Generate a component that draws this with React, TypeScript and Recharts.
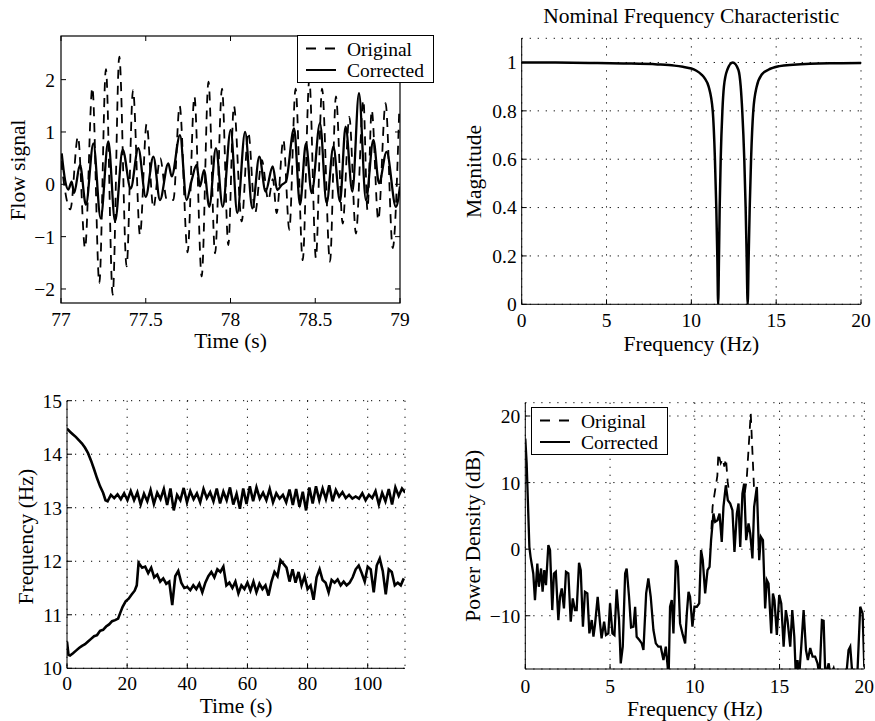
import React from 'react';
import { LineChart, Line, XAxis, YAxis, CartesianGrid, Legend } from 'recharts';

const FONT = '"Liberation Serif", "Times New Roman", Times, serif';
const TICK_FS = 19.5;
const LABEL_FS = 21.5;
const TICK_LEN = 5;
const Y_W = 50;
const X_H = 30;
const DASH = '9 7';

// top left: flow signal around 77-79 s (peaks / troughs)
const flowOrigT = [77.0, 77.055, 77.1, 77.142, 77.185, 77.226, 77.265, 77.305, 77.344, 77.387, 77.425, 77.466, 77.505, 77.545, 77.585, 77.625, 77.663, 77.7, 77.747, 77.787, 77.83, 77.87, 77.909, 77.95, 77.987, 78.02, 78.066, 78.105, 78.145, 78.185, 78.223, 78.25, 78.272, 78.312, 78.347, 78.384, 78.426, 78.465, 78.504, 78.54, 78.587, 78.622, 78.662, 78.701, 78.74, 78.784, 78.808, 78.833, 78.872, 78.915, 78.957, 78.996];
const flowOrigV = [0.45, -0.48, 0.91, -1.22, 1.85, -1.89, 2.2, -2.11, 2.44, -1.57, 1.8, -0.97, 1.15, -0.45, 0.5, -0.3, -0.3, 1.5, -1.3, 1.68, -1.76, 1.96, -1.32, 1.83, -1.16, 1.5, -0.71, 1.0, -0.55, 0.46, -0.3, 0.1, -0.55, 0.85, -0.87, 1.83, -1.45, 2.0, -1.41, 1.83, -1.48, 1.68, -0.75, 1.29, -0.94, 1.61, -0.49, 1.42, -0.68, 1.55, -1.22, 1.48];
const flowCorrT = [77.004, 77.024, 77.043, 77.063, 77.077, 77.112, 77.147, 77.191, 77.234, 77.279, 77.319, 77.364, 77.411, 77.456, 77.5, 77.545, 77.584, 77.633, 77.653, 77.702, 77.741, 77.771, 77.8, 77.82, 77.844, 77.875, 77.914, 77.954, 78.001, 78.04, 78.086, 78.129, 78.17, 78.207, 78.249, 78.276, 78.302, 78.327, 78.375, 78.41, 78.445, 78.479, 78.528, 78.567, 78.607, 78.646, 78.679, 78.719, 78.758, 78.799, 78.843, 78.876, 78.921, 78.976, 79.0];
const flowCorrV = [0.59, 0.08, -0.1, 0.05, -0.17, 0.37, -0.39, 0.78, -0.65, 0.82, -0.71, 0.66, -0.08, 0.69, -0.24, 0.53, -0.3, 0.4, 0.15, 0.94, -0.3, 0.08, 0.37, -0.04, 0.27, -0.43, 0.69, -0.43, 1.04, -0.55, 1.0, -0.46, 0.53, -0.14, 0.34, -0.11, -0.01, 0.05, 1.07, -0.39, 0.78, -0.17, 1.17, -0.36, 0.72, -0.33, 1.1, -0.14, 1.74, -0.3, 0.85, 0.02, 0.62, -0.43, -0.04];
const flowTimeTicks = [77, 77.5, 78, 78.5, 79];
const flowTicks = [-2, -1, 0, 1, 2];

// top right: nominal notch characteristic
const notchF = [0, 2, 4, 6, 8, 9, 9.5, 10, 10.3, 10.6, 10.8, 11.02, 11.26, 11.39, 11.47, 11.53, 11.58, 11.63, 11.67, 11.73, 11.83, 11.92, 12.12, 12.44, 12.77, 12.91, 13.0, 13.12, 13.2, 13.26, 13.32, 13.38, 13.44, 13.52, 13.65, 13.85, 14.15, 14.54, 15.2, 16, 17, 18.5, 20];
const notchMag = [1.0, 0.9995, 0.998, 0.996, 0.992, 0.987, 0.982, 0.975, 0.966, 0.95, 0.933, 0.9, 0.8, 0.6, 0.4, 0.2, 0.0, 0.2, 0.4, 0.6, 0.8, 0.9, 0.97, 1.0, 0.97, 0.9, 0.8, 0.6, 0.4, 0.2, 0.0, 0.2, 0.4, 0.6, 0.8, 0.9, 0.95, 0.97, 0.985, 0.991, 0.995, 0.997, 0.998];
const freqTicks = [0, 5, 10, 15, 20];
const magTicks = [0, 0.2, 0.4, 0.6, 0.8, 1];

// bottom left: tracked notch frequencies
const upperStartT = [0, 1, 2, 3, 4, 5, 6, 7, 8, 9, 10, 11, 12, 12.8];
const upperStartF = [14.48, 14.42, 14.37, 14.32, 14.26, 14.2, 14.12, 14.02, 13.88, 13.72, 13.55, 13.4, 13.28, 13.14];
// then sampled every 1.1 s from 13.5 s
const upperTailF = [13.12, 13.24, 13.18, 13.25, 13.16, 13.27, 13.14, 13.31, 13.14, 13.29, 13.06, 13.26, 13.12, 13.33, 13.07, 13.28, 13.16, 13.35, 13.05, 13.36, 12.95, 13.24, 13.14, 13.37, 13.1, 13.31, 13.16, 13.27, 13.1, 13.35, 13.18, 13.29, 13.12, 13.36, 13.08, 13.3, 13.14, 13.38, 13.06, 13.26, 12.98, 13.36, 13.07, 13.4, 13.12, 13.38, 13.17, 13.28, 13.14, 13.35, 13.1, 13.27, 13.17, 13.24, 13.1, 13.34, 13.05, 13.35, 13.02, 13.3, 12.95, 13.38, 13.08, 13.4, 13.14, 13.36, 13.16, 13.42, 13.12, 13.33, 13.21, 13.29, 13.18, 13.24, 13.17, 13.21, 13.17, 13.27, 13.14, 13.24, 13.18, 13.31, 13.06, 13.28, 13.12, 13.35, 13.06, 13.38, 13.22, 13.36, 13.28];
const lowerStartT = [0, 0.5, 1, 2, 3, 4, 5, 6, 7, 8, 9, 10, 11, 12, 13, 14, 15, 16, 17, 17.8, 18.5, 19.5, 20.5, 21.5, 22.5, 23.2, 23.8];
const lowerStartF = [10.5, 10.25, 10.24, 10.28, 10.33, 10.38, 10.42, 10.45, 10.5, 10.55, 10.6, 10.62, 10.7, 10.72, 10.78, 10.82, 10.88, 10.9, 10.93, 11.05, 11.15, 11.25, 11.3, 11.38, 11.45, 11.55, 11.97];
// then sampled every 1 s from 25 s
const lowerTailF = [11.88, 11.9, 11.78, 11.88, 11.7, 11.75, 11.62, 11.68, 11.58, 11.62, 11.18, 11.72, 11.82, 11.6, 11.5, 11.52, 11.46, 11.55, 11.48, 11.58, 11.42, 11.6, 11.72, 11.8, 11.7, 11.85, 11.8, 11.9, 11.55, 11.6, 11.5, 11.62, 11.4, 11.55, 11.48, 11.6, 11.45, 11.62, 11.42, 11.58, 11.48, 11.55, 11.36, 11.62, 11.8, 11.72, 12.02, 11.95, 11.88, 11.62, 11.85, 11.6, 11.8, 11.55, 11.72, 11.48, 11.55, 11.28, 11.7, 11.85, 11.65, 11.6, 11.42, 11.65, 11.6, 11.66, 11.55, 11.62, 11.55, 11.6, 11.7, 11.85, 11.92, 11.78, 11.62, 11.9, 11.85, 11.42, 11.92, 12.05, 11.82, 11.38, 11.85, 11.8, 11.55, 11.6, 11.55, 11.68];
const trackTimeTicks = [0, 20, 40, 60, 80, 100];
const trackFreqTicks = [10, 11, 12, 13, 14, 15];

// bottom right: power spectral density
const psdF = [0, 0.08, 0.24, 0.31, 0.47, 0.57, 0.71, 0.8, 0.93, 1.02, 1.12, 1.22, 1.36, 1.46, 1.59, 1.69, 1.8, 1.95, 2.05, 2.15, 2.28, 2.4, 2.54, 2.68, 2.8, 2.93, 3.03, 3.17, 3.27, 3.4, 3.52, 3.66, 3.78, 3.92, 4.02, 4.11, 4.27, 4.41, 4.5, 4.65, 4.76, 4.9, 5.0, 5.14, 5.26, 5.39, 5.53, 5.63, 5.75, 5.89, 5.98, 6.12, 6.24, 6.38, 6.48, 6.57, 6.73, 6.87, 6.97, 7.13, 7.26, 7.4, 7.56, 7.7, 7.85, 7.99, 8.15, 8.29, 8.4, 8.45, 8.54, 8.64, 8.74, 8.88, 9.0, 9.13, 9.27, 9.43, 9.53, 9.63, 9.72, 9.86, 9.98, 10.12, 10.26, 10.37, 10.47, 10.61, 10.75, 10.87, 10.96, 11.1, 11.2, 11.34, 11.46, 11.59, 11.69, 11.83, 11.95, 12.09, 12.22, 12.34, 12.48, 12.58, 12.68, 12.81, 12.91, 13.03, 13.17, 13.27, 13.4, 13.5, 13.66, 13.8, 13.9, 14.02, 14.15, 14.25, 14.35, 14.51, 14.61, 14.7, 14.84, 14.98, 15.1, 15.24, 15.37, 15.47, 15.63, 15.75, 15.87, 15.96, 16.06, 16.16, 16.28, 16.42, 16.56, 16.67, 16.81, 16.95, 17.1, 17.24, 17.36, 17.5, 17.6, 17.7, 17.9, 18.0, 18.19, 18.4, 18.9, 19.07, 19.17, 19.33, 19.57, 19.76, 19.9, 20.0];
const psdCorr = [16.6, 12.9, 0.35, -1.15, -3.65, -7.65, -2.15, -5.65, -2.9, -6.4, -3.15, -5.4, 0.6, -0.15, -9.15, -3.65, -3.4, -10.65, -7.15, -5.9, -8.9, -3.4, -3.65, -10.9, -7.4, -9.15, -9.15, -2.05, -3.15, -11.65, -6.4, -6.65, -12.65, -10.65, -13.15, -11.4, -7.15, -11.15, -13.4, -10.9, -12.9, -12.65, -8.15, -12.65, -12.9, -6.05, -10.65, -17.15, -14.65, -3.65, -2.9, -7.15, -11.75, -11.65, -8.65, -13.15, -13.65, -14.15, -15.15, -6.65, -4.4, -7.15, -12.15, -14.15, -14.65, -14.65, -16.65, -14.65, -17.65, -20, -8.65, -7.65, -12.65, -1.65, -2.65, -11.15, -12.65, -14.15, -9.65, -6.4, -7.15, -11.65, -8.65, -8.65, -8.15, -0.15, -1.65, -6.65, -3.15, -2.65, 1.35, 5.35, 4.1, 4.35, 5.35, 1.1, 6.35, 9.6, 7.35, 6.85, 5.85, -0.4, 5.35, 6.85, 0.35, 8.35, 9.85, 1.35, 3.85, 2.35, -1.4, 6.35, 9.35, -1.65, 1.85, 1.35, -8.9, -4.65, -5.15, -12.65, -6.65, -7.65, -12.9, -6.9, -8.15, -14.65, -9.15, -10.65, -14.65, -9.15, -13.15, -19, -16.65, -19, -14.65, -9.15, -15.15, -16.65, -14.85, -16.15, -16.15, -17.15, -19, -10.65, -10.75, -19, -17.15, -19, -17.9, -20, -20, -15.15, -14.65, -20, -20, -8.65, -9.65, -17.65];
// original differs from corrected only around the two tracked components
const psdOrigF = [10.98, 11.05, 11.33, 11.39, 11.53, 11.65, 11.74, 11.84, 11.94, 12.0, 12.5, 12.95, 13.06, 13.3, 13.49, 13.6];
const psdOrig = [3, 6.4, 11, 14.4, 12.9, 13.6, 12.4, 13.6, 10.1, 9, null, 8.5, 10.4, 20.4, 9.4, 8.5];
const dbTicks = [-10, 0, 10, 20];

const legendItems = [
  { name: 'Original', dash: '10 9' },
  { name: 'Corrected', dash: undefined as string | undefined },
];

type Frame = { left: number; top: number; right: number; bottom: number };
type Pt = { x: number; y: number | null };

const pts = (xs: number[], ys: (number | null)[]): Pt[] => xs.map((x, i) => ({ x, y: ys[i] }));
const sampled = (t0: number, dt: number, ys: number[]): Pt[] =>
  ys.map((y, i) => ({ x: Math.round((t0 + i * dt) * 100) / 100, y }));

const fmt = (v: number) => String(v).replace('-', '\u2212');

const marginOf = (f: Frame, w: number, h: number) => ({
  top: f.top,
  left: f.left - Y_W,
  right: w - f.right,
  bottom: h - f.bottom - X_H,
});

const xTick = (f: Frame, box: boolean) => (p: any) => (
  <g>
    <line x1={p.x} x2={p.x} y1={f.bottom} y2={f.bottom - TICK_LEN} stroke="#000" />
    {box && <line x1={p.x} x2={p.x} y1={f.top} y2={f.top + TICK_LEN} stroke="#000" />}
    <text x={p.x} y={p.y} dy="0.71em" textAnchor="middle" fontFamily={FONT} fontSize={TICK_FS} fill="#000">
      {fmt(p.payload.value)}
    </text>
  </g>
);

const yTick = (f: Frame, box: boolean) => (p: any) => (
  <g>
    <line x1={f.left} x2={f.left + TICK_LEN} y1={p.y} y2={p.y} stroke="#000" />
    {box && <line x1={f.right} x2={f.right - TICK_LEN} y1={p.y} y2={p.y} stroke="#000" />}
    <text x={p.x} y={p.y} dy="0.355em" textAnchor="end" fontFamily={FONT} fontSize={TICK_FS} fill="#000">
      {fmt(p.payload.value)}
    </text>
  </g>
);

const HLabel = ({ x, y, text }: { x: number; y: number; text: string }) => (
  <text x={x} y={y} textAnchor="middle" fontFamily={FONT} fontSize={LABEL_FS} fill="#000">
    {text}
  </text>
);

const VLabel = ({ x, y, text }: { x: number; y: number; text: string }) => (
  <text x={x} y={y} dy="0.23em" transform={`rotate(-90 ${x} ${y})`} textAnchor="middle" fontFamily={FONT} fontSize={LABEL_FS} fill="#000">
    {text}
  </text>
);

const BoxLegend = () => (
  <svg width={137} height={48} style={{ display: 'block' }}>
    <rect x={0.5} y={0.5} width={136} height={47} fill="#fff" stroke="#000" />
    {legendItems.map((it, i) => (
      <g key={it.name}>
        <line x1={9} x2={39} y1={13.5 + i * 21.5} y2={13.5 + i * 21.5} stroke="#000" strokeWidth={2} strokeDasharray={it.dash} />
        <text x={50} y={20.5 + i * 21.5} fontFamily={FONT} fontSize={19.5} fill="#000">
          {it.name}
        </text>
      </g>
    ))}
  </svg>
);

const gridProps = { stroke: '#000', strokeDasharray: '1.2 6.8', strokeWidth: 1 };

function FlowPanel() {
  const W = 437, H = 360;
  const f: Frame = { left: 61, top: 36, right: 400, bottom: 303 };
  return (
    <LineChart width={W} height={H} margin={marginOf(f, W, H)}>
      <XAxis type="number" dataKey="x" domain={[77, 79]} ticks={flowTimeTicks} interval={0} allowDataOverflow height={X_H} tickSize={0} tickMargin={9} tick={xTick(f, true)} axisLine={false} />
      <YAxis type="number" domain={[-2.268, 2.834]} ticks={flowTicks} interval={0} allowDataOverflow width={Y_W} tickSize={0} tickMargin={6} tick={yTick(f, true)} axisLine={false} />
      <Line data={pts(flowOrigT, flowOrigV)} dataKey="y" name="Original" type="monotone" stroke="#000" strokeWidth={1.8} strokeDasharray={DASH} dot={false} activeDot={false} isAnimationActive={false} />
      <Line data={pts(flowCorrT, flowCorrV)} dataKey="y" name="Corrected" type="monotone" stroke="#000" strokeWidth={2.3} dot={false} activeDot={false} isAnimationActive={false} />
      <rect x={f.left} y={f.top} width={f.right - f.left} height={f.bottom - f.top} fill="none" stroke="#000" strokeWidth={1.2} />
      <VLabel x={19.7} y={170} text="Flow signal" />
      <HLabel x={230.5} y={347.5} text="Time (s)" />
      <Legend layout="vertical" align="center" verticalAlign="middle" content={() => <BoxLegend />} wrapperStyle={{ left: 297, top: 35, width: 137, height: 48 }} />
    </LineChart>
  );
}

function NotchPanel() {
  const W = 438, H = 360;
  const f: Frame = { left: 84.7, top: 38.3, right: 424, bottom: 304.3 };
  return (
    <LineChart width={W} height={H} margin={marginOf(f, W, H)}>
      <CartesianGrid {...gridProps} />
      <XAxis type="number" dataKey="x" domain={[0, 20]} ticks={freqTicks} interval={0} allowDataOverflow height={X_H} tickSize={0} tickMargin={9} tick={xTick(f, false)} stroke="#000" />
      <YAxis type="number" domain={[0, 1.1]} ticks={magTicks} interval={0} allowDataOverflow width={Y_W} tickSize={0} tickMargin={5} tick={yTick(f, false)} stroke="#000" />
      <Line data={pts(notchF, notchMag)} dataKey="y" type="monotone" stroke="#000" strokeWidth={2.5} dot={false} activeDot={false} isAnimationActive={false} />
      <text x={254.3} y={22.7} textAnchor="middle" fontFamily={FONT} fontSize={LABEL_FS} fill="#000">
        Nominal Frequency Characteristic
      </text>
      <VLabel x={39} y={171.5} text="Magnitude" />
      <HLabel x={254.3} y={350.5} text="Frequency (Hz)" />
    </LineChart>
  );
}

function TrackPanel() {
  const W = 437, H = 361;
  const f: Frame = { left: 67, top: 40.7, right: 405, bottom: 308.3 };
  const upper = [...pts(upperStartT, upperStartF), ...sampled(13.5, 1.1, upperTailF)];
  const lower = [...pts(lowerStartT, lowerStartF), ...sampled(25, 1, lowerTailF)];
  return (
    <LineChart width={W} height={H} margin={marginOf(f, W, H)}>
      <CartesianGrid {...gridProps} />
      <XAxis type="number" dataKey="x" domain={[0, 112.4]} ticks={trackTimeTicks} interval={0} allowDataOverflow height={X_H} tickSize={0} tickMargin={8} tick={xTick(f, false)} stroke="#000" />
      <YAxis type="number" domain={[10, 15]} ticks={trackFreqTicks} interval={0} allowDataOverflow width={Y_W} tickSize={0} tickMargin={5} tick={yTick(f, false)} stroke="#000" />
      <Line data={upper} dataKey="y" type="linear" stroke="#000" strokeWidth={2.6} dot={false} activeDot={false} isAnimationActive={false} />
      <Line data={lower} dataKey="y" type="linear" stroke="#000" strokeWidth={2.6} dot={false} activeDot={false} isAnimationActive={false} />
      <VLabel x={28.3} y={176.7} text="Frequency (Hz)" />
      <HLabel x={236} y={352.5} text="Time (s)" />
    </LineChart>
  );
}

function PsdPanel() {
  const W = 438, H = 361;
  const f: Frame = { left: 88.3, top: 42.7, right: 427.3, bottom: 309 };
  return (
    <LineChart width={W} height={H} margin={marginOf(f, W, H)}>
      <CartesianGrid {...gridProps} />
      <XAxis type="number" dataKey="x" domain={[0, 20]} ticks={freqTicks} interval={0} allowDataOverflow height={X_H} tickSize={0} tickMargin={10} tick={xTick(f, false)} stroke="#000" />
      <YAxis type="number" domain={[-18, 22]} ticks={dbTicks} interval={0} allowDataOverflow width={Y_W} tickSize={0} tickMargin={5} tick={yTick(f, false)} stroke="#000" />
      <Line data={pts(psdOrigF, psdOrig)} dataKey="y" name="Original" type="linear" stroke="#000" strokeWidth={1.8} strokeDasharray={DASH} dot={false} activeDot={false} isAnimationActive={false} />
      <Line data={pts(psdF, psdCorr)} dataKey="y" name="Corrected" type="linear" stroke="#000" strokeWidth={2.3} dot={false} activeDot={false} isAnimationActive={false} />
      <VLabel x={38} y={175.8} text="Power Density (dB)" />
      <HLabel x={257.8} y={355.7} text="Frequency (Hz)" />
      <Legend layout="vertical" align="center" verticalAlign="middle" content={() => <BoxLegend />} wrapperStyle={{ left: 94, top: 47, width: 137, height: 48 }} />
    </LineChart>
  );
}

export default function App() {
  return (
    <div style={{ position: 'absolute', left: 0, top: 0, width: 875, height: 721, background: '#fff' }}>
      <div style={{ position: 'absolute', left: 0, top: 0 }}>
        <FlowPanel />
      </div>
      <div style={{ position: 'absolute', left: 437, top: 0 }}>
        <NotchPanel />
      </div>
      <div style={{ position: 'absolute', left: 0, top: 360 }}>
        <TrackPanel />
      </div>
      <div style={{ position: 'absolute', left: 437, top: 360 }}>
        <PsdPanel />
      </div>
    </div>
  );
}
